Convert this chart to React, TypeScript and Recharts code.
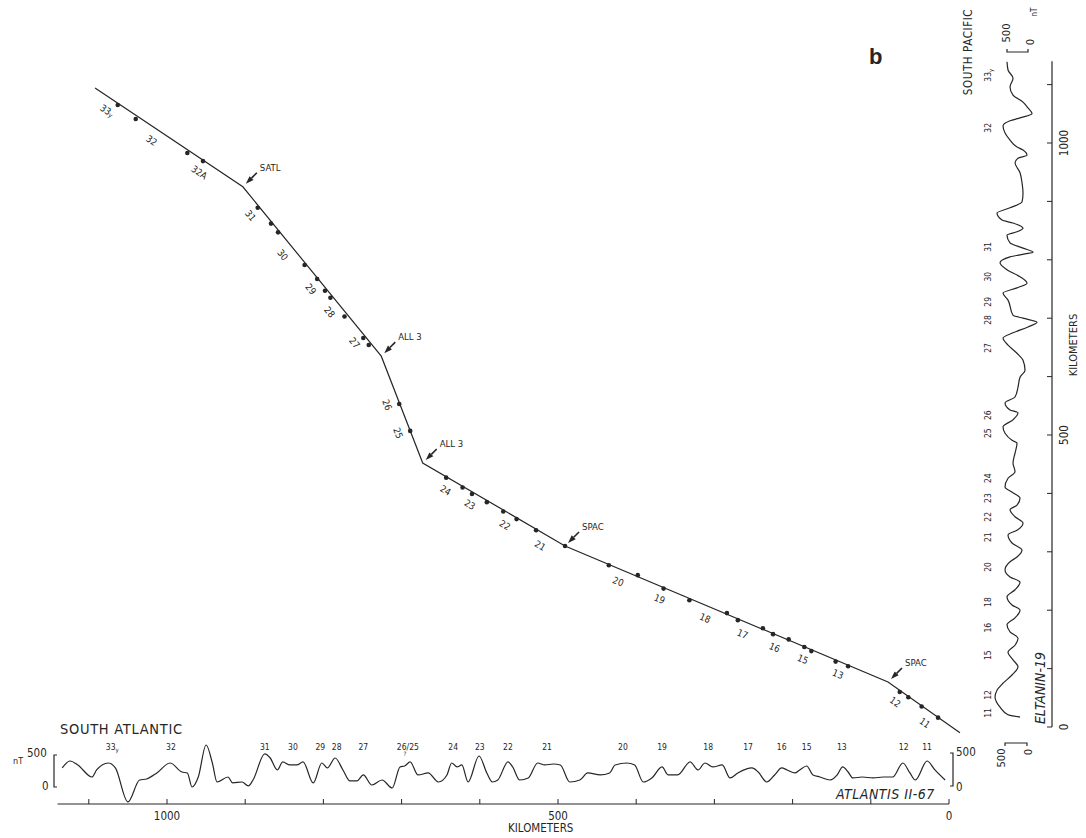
import React from 'react'
import { ComposedChart, LineChart, Line, Scatter, XAxis, YAxis } from 'recharts'

const FONT = '"DejaVu Sans Condensed", "DejaVu Sans", sans-serif'
const INK = '#262626'

// correlation track: Atlantic distance (km) vs Pacific distance (km)
const trackAtl = [1092, 903, 726, 673, 491, 78, -14]
const trackPac = [1094, 925, 635, 452, 310, 77, -10]
const trackTags = ['', 'SATL', 'ALL 3', 'ALL 3', 'SPAC', 'SPAC', '']

// anomaly picks on the track
const pickAtl = [1063, 1040, 974, 954, 884, 867, 858, 824, 808, 798, 791, 773, 749, 742, 703, 689, 643, 622, 610, 591, 570, 553, 528, 491, 435, 398, 365, 332, 284, 270, 238, 225, 205, 185, 176, 145, 129, 63, 52, 35, 14]
const pickPac = [1065, 1041, 983, 969, 889, 862, 847, 791, 767, 747, 735, 703, 666, 654, 553, 507, 427, 410, 399, 385, 369, 356, 337, 310, 277, 260, 237, 217, 195, 183, 169, 159, 150, 137, 130, 112, 104, 60, 51, 35, 16]

// anomaly names along the track (Atlantic km)
const trackNames = ['33y', '32', '32A', '31', '30', '29', '28', '27', '26', '25', '24', '23', '22', '21', '20', '19', '18', '17', '16', '15', '13', '12', '11']
const trackNameAtl = [1068, 1011, 950, 881, 840, 804, 780, 748, 704, 690, 636, 605, 560, 515, 417, 364, 306, 258, 217, 181, 136, 60, 22]

// anomaly names over the South Atlantic profile
const atlNames = ['33y', '32', '31', '30', '29', '28', '27', '26/25', '24', '23', '22', '21', '20', '19', '18', '17', '16', '15', '13', '12', '11']
const atlNameKm = [1070, 995, 875, 839, 804, 783, 749, 692, 634, 600, 564, 514, 417, 367, 308, 257, 214, 182, 137, 58, 28]

// anomaly names beside the South Pacific profile
const pacNames = ['33y', '32', '31', '30', '29', '28', '27', '26', '25', '24', '23', '22', '21', '20', '18', '16', '15', '12', '11']
const pacNameKm = [1116, 1026, 822, 771, 728, 697, 649, 534, 503, 426, 392, 360, 325, 274, 214, 170, 123, 55, 24]

const kmTicks = [0, 100, 200, 300, 400, 500, 600, 700, 800, 900, 1000, 1100]

// ATLANTIS II-67 profile: [km, nT]
const atlProfile = [
  [1134, 297], [1124, 406], [1114, 344], [1096, 156], [1090, 266], [1075, 375], [1066, 297], [1050, -234],
  [1035, 109], [1026, 125], [1013, 219], [996, 375], [981, 234], [974, 219], [968, 0], [960, 156],
  [950, 656], [942, 375], [936, 78], [922, 156], [916, 63], [904, 78], [896, 16], [890, 109],
  [875, 516], [868, 453], [859, 266], [852, 391], [843, 344], [834, 344], [826, 391], [813, 63],
  [802, 375], [795, 297], [785, 453], [775, 266], [766, 94], [757, 94], [749, 188], [738, 31],
  [725, 109], [712, -16], [702, 313], [696, 328], [689, 391], [679, 188], [666, 219], [653, 78],
  [642, 188], [636, 375], [629, 313], [623, 344], [615, 78], [601, 484], [591, 219], [584, 78],
  [577, 109], [564, 391], [558, 313], [549, 109], [538, 141], [526, 375], [517, 344], [506, 359],
  [497, 344], [485, 78], [472, 109], [462, 219], [446, 188], [434, 219], [427, 344], [412, 375],
  [402, 344], [391, 78], [380, 141], [367, 313], [359, 188], [347, 188], [331, 391], [321, 266],
  [312, 375], [302, 313], [290, 344], [280, 141], [270, 219], [252, 297], [244, 234], [233, 78],
  [223, 188], [214, 297], [207, 266], [197, 219], [191, 266], [182, 328], [174, 188], [165, 156],
  [152, 109], [143, 188], [136, 313], [129, 234], [123, 141], [111, 156], [97, 141], [84, 156],
  [72, 156], [59, 375], [50, 219], [43, 109], [28, 406], [18, 266], [5, 109],
]

// ELTANIN-19 profile: [km, nT]
const pacProfile = [
  [1139, 500], [1125, 476], [1111, 357], [1096, 428], [1082, 357], [1070, 119], [1062, 24], [1050, -95],
  [1043, 190], [1038, 428], [1029, 595], [1017, 547], [1005, 428], [993, 262], [988, 119], [979, 24],
  [974, 238], [966, 309], [949, 190], [932, 143], [914, 119], [899, 143], [889, 428], [880, 738],
  [868, 619], [863, 357], [854, 119], [848, 262], [842, 500], [829, 428], [820, 119], [813, -119],
  [810, 71], [805, 428], [795, 666], [783, 500], [771, 190], [760, 24], [752, 262], [743, 595],
  [731, 476], [705, 357], [700, 119], [693, -214], [685, 0], [675, 357], [666, 595], [654, 476],
  [640, 262], [628, 119], [611, 71], [599, 190], [582, 238], [565, 309], [555, 547], [543, 428],
  [538, 238], [526, 357], [514, 595], [503, 547], [491, 381], [486, 262], [469, 309], [452, 357],
  [437, 309], [426, 476], [411, 547], [401, 357], [392, 190], [380, 262], [372, 428], [360, 309],
  [349, 119], [337, 262], [329, 476], [315, 381], [303, 143], [291, 262], [283, 428], [269, 547],
  [257, 428], [248, 190], [235, 309], [223, 500], [209, 381], [200, 190], [187, 309], [175, 500],
  [163, 428], [152, 238], [140, 309], [128, 476], [115, 357], [103, 238], [89, 381], [75, 595],
  [63, 738], [51, 785], [34, 666], [21, 476], [17, 190],
]

// page geometry (px)
const W = 1086
const H = 838
const X0 = 949 // Atlantic 0 km
const KX = 0.782 // px per km
const Y0 = 727 // Pacific 0 km
const KY = 0.584
const KM_MAX = 1140
const KM_MIN = -30

const trackData = trackAtl.map((a, i) => ({ atl: a, pac: trackPac[i], tag: trackTags[i] }))
const pickData = pickAtl.map((a, i) => ({ atl: a, pac: pickPac[i] }))

function onTrack(atl: number) {
  let i = 0
  while (i < trackAtl.length - 2 && atl < trackAtl[i + 1]) i++
  const a0 = trackAtl[i], a1 = trackAtl[i + 1]
  const p0 = trackPac[i], p1 = trackPac[i + 1]
  const f = (a0 - atl) / (a0 - a1)
  const ang = (Math.atan2((p0 - p1) * KY, (a0 - a1) * KX) * 180) / Math.PI
  return { pac: p0 + f * (p1 - p0), ang }
}

const trackLabelData = trackNames.map((n, i) => {
  const t = onTrack(trackNameAtl[i])
  return { atl: trackNameAtl[i], pac: t.pac, ang: t.ang, name: n }
})

const atlData = atlProfile.map(([km, nT]) => ({ km, nT }))
const pacData = pacProfile.map(([km, nT]) => ({ km, nT }))

function nameText(name: string, size: number) {
  if (name === '33y') {
    return (
      <>
        33
        <tspan fontSize={size * 0.7} dy={size * 0.25}>y</tspan>
      </>
    )
  }
  return name
}

const Dot = (props: any) => <circle cx={props.cx} cy={props.cy} r={2.3} fill={INK} />

const TrackLabel = (props: any) => {
  const { cx, cy, payload } = props
  const t = (payload.ang * Math.PI) / 180
  const x = cx - 12 * Math.sin(t)
  const y = cy + 12 * Math.cos(t)
  return (
    <text
      x={x}
      y={y}
      transform={`rotate(${payload.ang.toFixed(1)} ${x} ${y})`}
      textAnchor="middle"
      dominantBaseline="central"
      fontSize={9.5}
      fontFamily={FONT}
      fill={INK}
    >
      {nameText(payload.name, 9.5)}
    </text>
  )
}

const BendArrow = (props: any) => {
  const { cx, cy, payload } = props
  if (!payload.tag) return <g />
  const tx = cx + 3
  const ty = cy - 3
  const bx = cx + 14
  const by = cy - 14
  const a = Math.atan2(ty - by, tx - bx)
  const hx = tx - 8 * Math.cos(a)
  const hy = ty - 8 * Math.sin(a)
  const px = -Math.sin(a) * 2.8
  const py = Math.cos(a) * 2.8
  return (
    <g>
      <line x1={bx} y1={by} x2={hx} y2={hy} stroke={INK} strokeWidth={1.6} />
      <polygon points={`${tx},${ty} ${hx + px},${hy + py} ${hx - px},${hy - py}`} fill={INK} />
      <text x={cx + 17} y={cy - 16} fontSize={9.5} fontFamily={FONT} fill={INK}>
        {payload.tag}
      </text>
    </g>
  )
}

const AtlKmTick = (props: any) => {
  const { x, y, payload } = props
  const v = payload.value
  return (
    <g>
      <line x1={x} y1={y} x2={x} y2={y - 5} stroke={INK} strokeWidth={1} />
      {v % 500 === 0 && (
        <text x={x} y={y + 16} textAnchor="middle" fontSize={11.5} fontFamily={FONT} fill={INK}>
          {v}
        </text>
      )}
    </g>
  )
}

const AtlNameTick = (props: any) => {
  const { x, y, payload } = props
  const name = atlNames[atlNameKm.indexOf(payload.value)] ?? ''
  return (
    <g>
      <text x={x} y={y + 10} textAnchor="middle" fontSize={8.5} fontFamily={FONT} fill={INK}>
        {nameText(name, 8.5)}
      </text>
      {name === '26/25' && (
        <text x={x - 3} y={y + 16} textAnchor="middle" fontSize={6} fontFamily={FONT} fill={INK}>
          ?
        </text>
      )}
    </g>
  )
}

const PacKmTick = (props: any) => {
  const { x, y, payload } = props
  const v = payload.value
  return (
    <g>
      <line x1={x} y1={y} x2={x - 5} y2={y} stroke={INK} strokeWidth={1} />
      {v % 500 === 0 && (
        <text
          x={x + 12}
          y={y}
          transform={`rotate(-90 ${x + 12} ${y})`}
          textAnchor="middle"
          dominantBaseline="central"
          fontSize={11.5}
          fontFamily={FONT}
          fill={INK}
        >
          {v}
        </text>
      )}
    </g>
  )
}

const PacNameTick = (props: any) => {
  const { x, y, payload } = props
  const name = pacNames[pacNameKm.indexOf(payload.value)] ?? ''
  const tx = x - 2
  return (
    <text
      x={tx}
      y={y}
      transform={`rotate(-90 ${tx} ${y})`}
      textAnchor="middle"
      dominantBaseline="central"
      fontSize={8.5}
      fontFamily={FONT}
      fill={INK}
    >
      {nameText(name, 8.5)}
    </text>
  )
}

const layer: React.CSSProperties = { position: 'absolute', left: 0, top: 0 }

const txt = (extra: React.CSSProperties): React.CSSProperties => ({
  position: 'absolute',
  fontFamily: FONT,
  color: INK,
  whiteSpace: 'nowrap',
  lineHeight: 1,
  ...extra,
})

export default function App() {
  const leftPx = X0 - KX * KM_MAX
  const topPx = Y0 - KY * KM_MAX
  return (
    <div style={{ position: 'absolute', left: 0, top: 0, width: W, height: H, background: '#fff', overflow: 'hidden' }}>
      {/* South Atlantic profile */}
      <div style={layer}>
        <LineChart
          width={W}
          height={H}
          data={atlData}
          margin={{ left: leftPx, right: W - X0, top: 740 - 12, bottom: H - 804 - 22 }}
        >
          <XAxis
            dataKey="km"
            type="number"
            domain={[0, KM_MAX]}
            reversed
            allowDataOverflow
            ticks={kmTicks}
            interval={0}
            height={22}
            tickSize={0}
            tickMargin={0}
            tickLine={false}
            axisLine={{ stroke: INK, strokeWidth: 1.2 }}
            tick={<AtlKmTick />}
          />
          <XAxis
            xAxisId="anom"
            dataKey="km"
            orientation="top"
            type="number"
            domain={[0, KM_MAX]}
            reversed
            allowDataOverflow
            ticks={atlNameKm}
            interval={0}
            height={12}
            tickSize={0}
            tickMargin={0}
            tickLine={false}
            axisLine={false}
            tick={<AtlNameTick />}
          />
          <YAxis hide type="number" domain={[-266, 734]} allowDataOverflow />
          <Line
            dataKey="nT"
            type="monotone"
            stroke={INK}
            strokeWidth={1.2}
            dot={false}
            isAnimationActive={false}
          />
          <Line
            xAxisId="anom"
            dataKey="nT"
            stroke="none"
            strokeWidth={0}
            dot={false}
            activeDot={false}
            isAnimationActive={false}
          />
        </LineChart>
      </div>

      {/* South Pacific profile */}
      <div style={layer}>
        <LineChart
          width={W}
          height={H}
          layout="vertical"
          data={pacData}
          margin={{ left: 990 - 20, right: W - 1052 - 30, top: topPx, bottom: H - Y0 }}
        >
          <XAxis hide type="number" dataKey="nT" domain={[-571, 905]} reversed allowDataOverflow />
          <YAxis
            yAxisId="km"
            orientation="right"
            type="number"
            dataKey="km"
            domain={[0, KM_MAX]}
            reversed
            allowDataOverflow
            ticks={kmTicks}
            interval={0}
            width={30}
            tickSize={0}
            tickMargin={0}
            tickLine={false}
            axisLine={{ stroke: INK, strokeWidth: 1.2 }}
            tick={<PacKmTick />}
          />
          <YAxis
            yAxisId="anom"
            orientation="left"
            type="number"
            dataKey="km"
            domain={[0, KM_MAX]}
            reversed
            allowDataOverflow
            ticks={pacNameKm}
            interval={0}
            width={20}
            tickSize={0}
            tickMargin={0}
            tickLine={false}
            axisLine={false}
            tick={<PacNameTick />}
          />
          <Line
            yAxisId="km"
            dataKey="nT"
            type="monotone"
            stroke={INK}
            strokeWidth={1.2}
            dot={false}
            isAnimationActive={false}
          />
          <Line
            yAxisId="anom"
            dataKey="nT"
            stroke="none"
            strokeWidth={0}
            dot={false}
            activeDot={false}
            isAnimationActive={false}
          />
        </LineChart>
      </div>

      {/* correlation track */}
      <div style={layer}>
        <ComposedChart
          width={W}
          height={H}
          margin={{ left: leftPx, right: W - (X0 - KX * KM_MIN), top: topPx, bottom: H - (Y0 - KY * KM_MIN) }}
        >
          <XAxis hide type="number" dataKey="atl" domain={[KM_MIN, KM_MAX]} reversed allowDataOverflow />
          <YAxis hide type="number" dataKey="pac" domain={[KM_MIN, KM_MAX]} allowDataOverflow />
          <Line
            data={trackData}
            dataKey="pac"
            type="linear"
            stroke={INK}
            strokeWidth={1.2}
            dot={false}
            isAnimationActive={false}
          />
          <Scatter data={pickData} dataKey="pac" shape={<Dot />} isAnimationActive={false} />
          <Scatter data={trackData} dataKey="pac" shape={<BendArrow />} isAnimationActive={false} />
          <Scatter data={trackLabelData} dataKey="pac" shape={<TrackLabel />} isAnimationActive={false} />
        </ComposedChart>
      </div>

      {/* nT scale bars */}
      <svg width={W} height={H} style={{ ...layer, pointerEvents: 'none' }}>
        <g stroke={INK} strokeWidth={1.2} fill="none">
          <polyline points="57,755 54,755 54,787 57,787" />
          <polyline points="950,753 953,753 953,786 950,786" />
          <polyline points="1007,49 1007,52 1028,52 1028,49" />
          <polyline points="1005,746 1005,743 1027,743 1027,746" />
        </g>
      </svg>

      <div style={txt({ left: 60, top: 722, fontSize: 14.5, letterSpacing: 0.7 })}>SOUTH ATLANTIC</div>
      <div style={txt({ left: 13, top: 757, fontSize: 9 })}>nT</div>
      <div style={txt({ left: 27, top: 748, fontSize: 11.5 })}>500</div>
      <div style={txt({ left: 42, top: 781, fontSize: 11.5 })}>0</div>
      <div style={txt({ left: 956, top: 747, fontSize: 11.5 })}>500</div>
      <div style={txt({ left: 956, top: 782, fontSize: 11.5 })}>0</div>
      <div style={txt({ left: 836, top: 787, fontSize: 14, fontStyle: 'italic', letterSpacing: 0.5 })}>ATLANTIS II-67</div>
      <div style={txt({ left: 508, top: 823, fontSize: 11.5 })}>KILOMETERS</div>
      <div style={txt({ left: 869, top: 46, fontSize: 22, fontWeight: 'bold', fontFamily: 'Liberation Sans, sans-serif' })}>b</div>

      <svg width={W} height={H} style={{ ...layer, pointerEvents: 'none' }}>
        <g fontFamily={FONT} fill={INK}>
          <text x={968} y={52} fontSize={11.5} transform="rotate(-90 968 52)" textAnchor="middle" dominantBaseline="central" letterSpacing={0.6}>
            SOUTH PACIFIC
          </text>
          <text x={1073} y={345} fontSize={11} transform="rotate(-90 1073 345)" textAnchor="middle" dominantBaseline="central">
            KILOMETERS
          </text>
          <text x={1040} y={688} fontSize={14} fontStyle="italic" transform="rotate(-90 1040 688)" textAnchor="middle" dominantBaseline="central">
            ELTANIN-19
          </text>
          <text x={1006} y={33} fontSize={11} transform="rotate(-90 1006 33)" textAnchor="middle" dominantBaseline="central">500</text>
          <text x={1030} y={42} fontSize={11} transform="rotate(-90 1030 42)" textAnchor="middle" dominantBaseline="central">0</text>
          <text x={1034} y={12} fontSize={8} transform="rotate(-90 1034 12)" textAnchor="middle" dominantBaseline="central">nT</text>
          <text x={1001} y={758} fontSize={11} transform="rotate(-90 1001 758)" textAnchor="middle" dominantBaseline="central">500</text>
          <text x={1028} y={752} fontSize={11} transform="rotate(-90 1028 752)" textAnchor="middle" dominantBaseline="central">0</text>
        </g>
      </svg>
    </div>
  )
}
